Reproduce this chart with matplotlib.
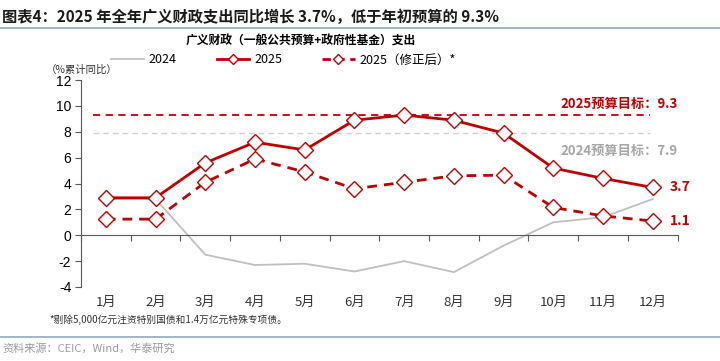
import matplotlib
matplotlib.use("Agg")
import matplotlib.pyplot as plt
from matplotlib.lines import Line2D

plt.rcParams["font.family"] = ["Noto Sans CJK SC", "DejaVu Sans"]
plt.rcParams["axes.unicode_minus"] = False

months = ["1月", "2月", "3月", "4月", "5月", "6月", "7月", "8月", "9月", "10月", "11月", "12月"]
y2024 = [2.8, 2.8, -1.5, -2.3, -2.2, -2.8, -2.0, -2.85, -0.8, 1.0, 1.4, 2.8]
y2025 = [2.9, 2.9, 5.6, 7.2, 6.6, 8.9, 9.3, 8.9, 7.9, 5.2, 4.4, 3.7]
y2025_adj = [1.25, 1.25, 4.1, 5.9, 4.9, 3.6, 4.1, 4.6, 4.65, 2.15, 1.5, 1.1]
target_2025 = 9.3
target_2024 = 7.9
yticks = [-4, -2, 0, 2, 4, 6, 8, 10, 12]

RED = "#C00000"
GRAY = "#BFBFBF"
RULE = "#8FA9C2"

fig = plt.figure(figsize=(7.2, 3.61), dpi=100)
ax = fig.add_axes([0.1125, 0.205, 0.8286, 0.573])

x = list(range(len(months)))

ax.hlines(target_2025, -0.25, 10.95, colors=RED, linestyles=(0, (4, 3)), linewidth=1.3)
ax.hlines(target_2024, -0.25, 10.95, colors="#D0D0D0", linestyles=(0, (4, 3)), linewidth=1.0)

ax.plot(x, y2024, color=GRAY, linewidth=1.3, zorder=2)
ax.plot(x, y2025, color=RED, linewidth=2.0, marker="D", markersize=8,
        markerfacecolor="white", markeredgecolor=RED, markeredgewidth=1.0, zorder=4)
ax.plot(x, y2025_adj, color=RED, linewidth=2.0, linestyle=(0, (3.5, 2.5)), marker="D",
        markersize=8, markerfacecolor="white", markeredgecolor=RED,
        markeredgewidth=1.0, zorder=3)

ax.set_xlim(-0.5, len(months) - 0.5)
ax.set_ylim(-4, 12)
ax.set_yticks(yticks)
ax.set_yticklabels([str(v) for v in yticks], fontsize=10, family="Liberation Sans")

ax.spines["top"].set_visible(False)
ax.spines["right"].set_visible(False)
ax.spines["left"].set_color("#595959")
ax.spines["bottom"].set_position(("data", 0))
ax.spines["bottom"].set_color("#595959")
ax.tick_params(axis="y", direction="out", length=4, color="#595959", pad=3)
ax.set_xticks([i - 0.5 for i in range(len(months) + 1)])
ax.set_xticklabels([])
ax.tick_params(axis="x", direction="out", length=4, color="#595959")

for i, m in enumerate(months):
    ax.text(i, -0.075, m, transform=ax.get_xaxis_transform(), ha="center", va="center",
            fontsize=9.5, color="#333333")

ax.text(1.0, 9.3 + 0.85, "2025预算目标：9.3", transform=ax.get_yaxis_transform(),
        ha="right", va="center", color=RED, fontsize=9.5, fontweight="bold")
ax.text(1.0, 7.9 - 1.35, "2024预算目标：7.9", transform=ax.get_yaxis_transform(),
        ha="right", va="center", color="#A6A6A6", fontsize=9.5, fontweight="bold")
ax.text(11.35, y2025[-1], f"{y2025[-1]}", ha="left", va="center", color=RED,
        fontsize=10, fontweight="bold")
ax.text(11.35, y2025_adj[-1], f"{y2025_adj[-1]}", ha="left", va="center", color=RED,
        fontsize=10, fontweight="bold")

fig.text(0.003, 0.953, "图表4：2025 年全年广义财政支出同比增长 3.7%，低于年初预算的 9.3%",
         fontsize=11, fontweight="bold", va="center", ha="left", color="#1a1a1a")
fig.add_artist(Line2D([0, 1], [0.922, 0.922], color=RULE, linewidth=1.2))
fig.text(0.418, 0.886, "广义财政（一般公共预算+政府性基金）支出", fontsize=8.5,
         fontweight="bold", ha="center", va="center")

handles = [
    Line2D([0], [0], color=GRAY, linewidth=1.3),
    Line2D([0], [0], color=RED, linewidth=2.0, marker="D", markersize=5,
           markerfacecolor="white", markeredgecolor=RED),
    Line2D([0], [0], color=RED, linewidth=2.0, linestyle=(0, (3, 2)), marker="D",
           markersize=5, markerfacecolor="white", markeredgecolor=RED),
]
labels = ["2024", "2025", "2025（修正后）*"]
fig.legend(handles, labels, loc="center", bbox_to_anchor=(0.394, 0.834), ncol=3,
           frameon=False, fontsize=9, handlelength=2.6, columnspacing=3.2,
           handletextpad=0.4)

fig.text(0.114, 0.806, "（%累计同比）", fontsize=7.5, ha="center", va="center", color="#333333")
fig.text(0.068, 0.113, "*剔除5,000亿元注资特别国债和1.4万亿元特殊专项债。", fontsize=7,
         ha="left", va="center", color="#333333")
fig.add_artist(Line2D([0, 1], [0.067, 0.067], color=RULE, linewidth=1.2))
fig.text(0.003, 0.036, "资料来源：CEIC，Wind，华泰研究", fontsize=8, ha="left", va="center",
         color="#9a9a9a")

fig.savefig("out.png", dpi=100)
